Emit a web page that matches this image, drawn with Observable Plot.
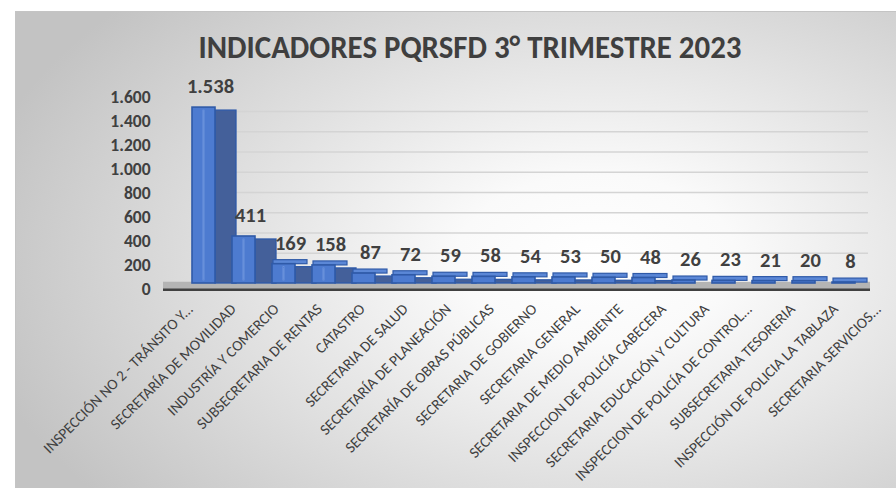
<!DOCTYPE html>
<html><head><meta charset="utf-8">
<script src="https://cdn.jsdelivr.net/npm/d3@7"></script>
<script src="https://cdn.jsdelivr.net/npm/@observablehq/plot@0.6"></script>
<style>
body{margin:0;width:896px;height:488px;background:#fff;overflow:hidden;}
#chart{position:absolute;left:15px;top:11px;width:881px;height:477px;overflow:hidden;
  background:radial-gradient(ellipse 72% 80% at 66% 52%, #ffffff 0%, #fafafa 22%, #c3c3c3 100%);
  box-shadow: inset 1px 1px 0 #c4c4c4;}
#chart svg{position:absolute;left:0;top:0;background:transparent;overflow:visible;}
#title{position:absolute;left:455px;top:36px;white-space:nowrap;font-family:Carlito,Calibri,Lato,sans-serif;font-weight:700;font-size:33px;color:#3f3f3f;transform:translate(-50%,-50%);transform-origin:50% 50%;}
</style></head>
<body>
<div id="chart"><div id="title">INDICADORES PQRSFD 3° TRIMESTRE 2023</div></div>
<script>
const categories = ["INSPECCIÓN NO 2 - TRÁNSITO Y...", "SECRETARÍA DE MOVILIDAD", "INDUSTRÍA Y COMERCIO", "SUBSECRETARIA DE RENTAS", "CATASTRO", "SECRETARIA DE SALUD", "SECRETARÍA DE PLANEACIÓN", "SECRETARÍA DE OBRAS PÚBLICAS", "SECRETARIA DE GOBIERNO", "SECRETARIA GENERAL", "SECRETARIA DE MEDIO AMBIENTE", "INSPECCION DE POLICÍA CABECERA", "SECRETARIA EDUCACIÓN Y CULTURA", "INSPECCION DE POLICÍA DE CONTROL...", "SUBSECRETARIA TESORERIA", "INSPECCIÓN DE POLICIA LA TABLAZA", "SECRETARIA SERVICIOS..."];
const values = [1538, 411, 169, 158, 87, 72, 59, 58, 54, 53, 50, 48, 26, 23, 21, 20, 8];
const yTicks = [0, 200, 400, 600, 800, 1000, 1200, 1400, 1600];

const data = categories.map((c, i) => ({cat: c, value: values[i]}));
const fmt = d3.formatLocale({decimal: ",", thousands: ".", grouping: [3], currency: ["$", ""]}).format(",d");
const FONT = "Carlito, Calibri, Lato, sans-serif";
const W = 881, H = 477;
const chart = document.getElementById("chart");

// Back wall gridlines
const gridPlot = Plot.plot({
  width: W, height: H, marginLeft: 177, marginRight: 28, marginTop: 0, marginBottom: 0,
  style: {background: "transparent"},
  x: {axis: null},
  y: {domain: [0, 1600], range: [262, 100], axis: null},
  marks: [
    Plot.ruleY(yTicks.filter(t => t > 0), {stroke: "#d4d4d4", strokeWidth: 1.5})
  ]
});

// Front axes and floor
const axisPlot = Plot.plot({
  width: W, height: H, marginLeft: 148, marginRight: 26, marginTop: 0, marginBottom: 190,
  style: {background: "transparent", fontFamily: FONT},
  x: {type: "point", domain: categories, range: [175, 863], padding: 0},
  y: {domain: [0, 1600], range: [278.3, 86.3]},
  marks: [
    Plot.ruleY([0], {stroke: "#b4b4b4", strokeWidth: 8, dy: -4}),
    Plot.ruleY([0], {stroke: "#404040", strokeWidth: 2.5}),
    Plot.axisY({ticks: yTicks, tickFormat: fmt, tickSize: 0, tickPadding: 13, fontSize: 17.5, fontWeight: "bold", fill: "#404040"}),
    Plot.axisX({tickRotate: -45, tickSize: 0, tickPadding: 8, fontSize: 15.2, fill: "#404040", label: null})
  ]
});

// Bars
const barPlot = Plot.plot({
  width: W, height: H, marginTop: 0, marginBottom: 0, marginLeft: 0, marginRight: 0,
  style: {background: "transparent", fontFamily: FONT},
  x: {type: "band", domain: categories, range: [175, 855], padding: 0, axis: null},
  y: {domain: [0, 1600], range: [272, 89], axis: null},
  marks: [
    Plot.barY(data, {x: "cat", y: "value", fill: "#44609a", stroke: "#2f5aa8", strokeWidth: 1.3, insetLeft: 25, insetRight: -6, dy: 3, insetBottom: 3}),
    Plot.barY(data.filter(d => d.value < 200), {x: "cat", y1: "value", y2: "value", fill: "#5b87d6", stroke: "#2f5aa8", strokeWidth: 1.2, insetLeft: 3, insetRight: 3, insetTop: -4}),
    Plot.barY(data, {x: "cat", y: "value", fill: "#4d7bd0", stroke: "#2f5aa8", strokeWidth: 1.6, insetLeft: 2, insetRight: 15}),
    Plot.barY(data.filter(d => d.value >= 100), {x: "cat", y: "value", fill: "none", stroke: "#86a8e8", strokeWidth: 0.8, strokeOpacity: 0.7, insetLeft: 13, insetRight: 26, insetTop: 3, insetBottom: 3}),
    Plot.text(data, {x: "cat", y: "value", text: d => fmt(d.value), dy: -21, fontSize: 20.5, fontWeight: "bold", fill: "#404040"})
  ]
});

chart.appendChild(gridPlot);
chart.appendChild(axisPlot);
chart.appendChild(barPlot);

function fitTitle() {
  const t = document.getElementById("title");
  t.style.transform = "translate(-50%,-50%)";
  const w = t.getBoundingClientRect().width;
  const s = 543 / w;
  t.style.transform = `translate(-50%,-50%) scaleX(${s})`;
}
fitTitle();
if (document.fonts && document.fonts.ready) document.fonts.ready.then(fitTitle);
</script>
</body></html>
